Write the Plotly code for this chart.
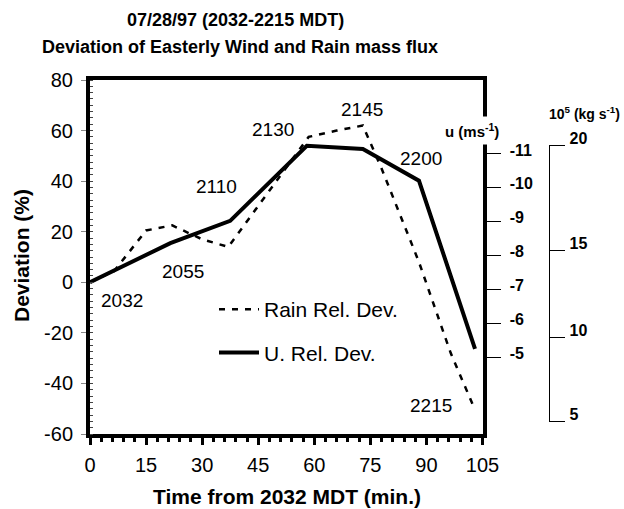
import plotly.graph_objects as go

# ---------------- data ----------------
u_time = [0, 21.5, 37.5, 58, 73, 88, 103]
u_dev = [0, 15.5, 24.3, 54, 52.7, 40.2, -26.3]
u_labels = ["2032", "2055", "2110", "2130", "2145", "2200", "2215"]

rain_time = [0, 6.5, 15, 22, 30, 37, 58.5, 66, 73, 78, 88, 96.5, 103]
rain_dev = [0, 4.5, 20.5, 22.5, 17, 14, 57.5, 60, 62, 45, 8, -28, -50.5]

dev_ticks = [-60, -40, -20, 0, 20, 40, 60, 80]
time_ticks = [0, 15, 30, 45, 60, 75, 90, 105]
u_ticks = [-11, -10, -9, -8, -7, -6, -5]
flux_ticks = [5, 10, 15, 20]

# ---------------- layout helpers ----------------
FONT = "Liberation Sans, Arial, sans-serif"
W, H = 624, 509
ML, MR, MT, MB = 90, 20, 80, 75
PW = W - ML - MR
PH = H - MT - MB
x_end = 392.5 / PW  # right edge of the main plot (paper)


def px_x(p):
    return (p - ML) / PW


def px_y(p):
    return (H - MB - p) / PH


def hy(v):
    return str(v).replace("\u2212", "-")


# hand-drawn flux scale: tick positions along its line (fraction of its length)
flux_tick_pos = [0.0, 0.3036, 0.6205, 1.0]
# label offsets relative to each U point (pixels)
lbl_dx = [32, 13, -14, -34, -1, 2, -44]
lbl_dy = [-18, -28, 34, 16, 40, 22, -57]

fig = go.Figure()
fig.add_trace(go.Scatter(
    x=rain_time, y=rain_dev, mode="lines", name="Rain Rel. Dev.",
    line=dict(color="black", width=2.5, dash="6px,7px"), legendgroup="a"))
fig.add_trace(go.Scatter(
    x=u_time, y=u_dev, mode="lines", name="U. Rel. Dev.",
    line=dict(color="black", width=4), legendgroup="b"))
# helper traces so the extra axes are drawn (no marks)
fig.add_trace(go.Scatter(x=[None], y=[None], yaxis="y2", showlegend=False, hoverinfo="skip"))
fig.add_trace(go.Scatter(x=[None], y=[None], yaxis="y3", showlegend=False, hoverinfo="skip"))

for t, d, s, dx, dy in zip(u_time, u_dev, u_labels, lbl_dx, lbl_dy):
    fig.add_annotation(x=t, y=d, text=s, showarrow=False, xshift=dx, yshift=dy,
                       xanchor="center", yanchor="middle",
                       font=dict(family=FONT, size=19, color="black"))

ann = [
    dict(text="07/28/97 (2032-2215 MDT)", x=px_x(235), y=px_y(20), size=18),
    dict(text="Deviation of Easterly Wind and Rain mass flux", x=px_x(240), y=px_y(47), size=18),
    dict(text="Time from 2032 MDT (min.)", x=px_x(286.5), y=px_y(496.7), size=21),
]
for a in ann:
    fig.add_annotation(xref="paper", yref="paper", x=a["x"], y=a["y"], text=a["text"],
                       xanchor="center", yanchor="middle", showarrow=False,
                       font=dict(family=FONT, size=a["size"], color="black", weight="bold"))
fig.add_annotation(xref="paper", yref="paper", x=px_x(21), y=px_y(256), text="Deviation (%)",
                   xanchor="center", yanchor="middle", textangle=-90, showarrow=False,
                   font=dict(family=FONT, size=21, color="black", weight="bold"))
fig.add_annotation(xref="paper", yref="paper", x=px_x(471.5), y=px_y(130),
                   xanchor="center", yanchor="middle",
                   text="u (ms<sup>-1</sup>)", showarrow=False, bgcolor="white", borderpad=4,
                   font=dict(family=FONT, size=15, color="black", weight="bold"))
fig.add_annotation(xref="paper", yref="paper", x=px_x(584), y=px_y(113),
                   xanchor="center", yanchor="middle",
                   text="10<sup>5</sup> (kg s<sup>-1</sup>)", showarrow=False,
                   font=dict(family=FONT, size=14, color="black", weight="bold"))

fig.update_layout(
    width=W, height=H,
    margin=dict(l=ML, r=MR, t=MT, b=MB, autoexpand=False),
    paper_bgcolor="white", plot_bgcolor="rgba(0,0,0,0)",
    font=dict(family=FONT, color="black"),
    showlegend=True,
    legend=dict(x=px_x(214), y=px_y(289),
                xanchor="left", yanchor="top", bgcolor="rgba(0,0,0,0)",
                font=dict(family=FONT, size=21, color="black"),
                itemwidth=40, tracegroupgap=13, traceorder="grouped"),
    xaxis=dict(domain=[0, x_end], range=[0, 105], tickvals=time_ticks,
               showgrid=False, zeroline=False,
               showline=True, linewidth=4, linecolor="black", mirror=True,
               ticks="outside", ticklen=7, tickwidth=2.5, tickcolor="black",
               ticklabelstandoff=3,
               minor=dict(dtick=3, ticks="outside", ticklen=4, tickwidth=2.5, tickcolor="black"),
               tickfont=dict(family=FONT, size=20, color="black")),
    yaxis=dict(range=[-60, 80], tickvals=dev_ticks, ticktext=[hy(v) for v in dev_ticks],
               showgrid=False, zeroline=False,
               showline=True, linewidth=4, linecolor="black", mirror=True,
               ticks="outside", ticklen=5, tickwidth=1, tickcolor="#888",
               ticklabelstandoff=4,
               minor=dict(dtick=2.5, ticks="inside", ticklen=3, tickwidth=1, tickcolor="#444"),
               tickfont=dict(family=FONT, size=20, color="black")),
    yaxis2=dict(overlaying="y", anchor="free", position=x_end, side="right",
                range=[-2.744, -13.18], tickvals=u_ticks, ticktext=[hy(v) for v in u_ticks],
                showgrid=False, zeroline=False, showline=False,
                ticks="outside", ticklen=17, tickwidth=1, tickcolor="black",
                ticklabelstandoff=6, ticklabelshift=4,
                tickfont=dict(family=FONT, size=16, color="black", weight="bold")),
    yaxis3=dict(domain=[px_y(421.7), px_y(145)], anchor="free", position=px_x(549.3), side="right",
                range=[0, 1], tickvals=flux_tick_pos, ticktext=[str(v) for v in flux_ticks],
                showgrid=False, zeroline=False,
                showline=True, linewidth=1, linecolor="black",
                ticks="outside", ticklen=15, tickwidth=1, tickcolor="black",
                ticklabelstandoff=1, ticklabelshift=-7,
                tickfont=dict(family=FONT, size=16, color="black", weight="bold")),
)

fig.write_html("out.html", config={"displayModeBar": False},
               post_script="document.body.style.margin='0px';")
